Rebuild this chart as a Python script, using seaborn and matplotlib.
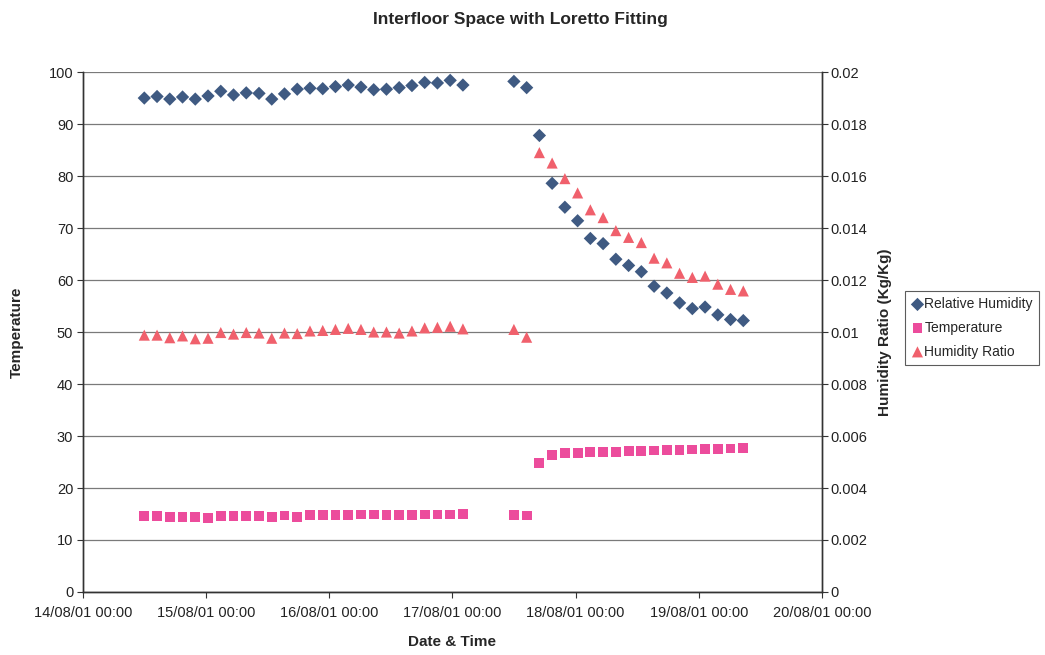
import matplotlib
matplotlib.use("Agg")
import matplotlib.pyplot as plt
import matplotlib.dates as mdates
import numpy as np
import pandas as pd
import seaborn as sns

sns.set_style("white")
plt.rcParams['font.family'] = ['Liberation Sans', 'DejaVu Sans']

nan = np.nan

# readings roughly every 2.5 hours, three readings missing on 17/08
times = pd.date_range('2001-08-14 11:57', periods=48, freq='149min')

rel_humidity = [95.0, 95.3, 94.8, 95.2, 94.8, 95.4, 96.3, 95.6, 96.0, 95.9,
                94.8, 95.8, 96.7, 96.9, 96.8, 97.2, 97.5, 97.1, 96.6, 96.7,
                97.0, 97.4, 98.0, 97.9, 98.4, 97.5,
                nan, nan, nan,
                98.2, 97.0,
                87.8, 78.6, 74.0, 71.4, 68.0, 67.0, 64.0, 62.8, 61.6, 58.8,
                57.5, 55.6, 54.5, 54.8, 53.3, 52.4, 52.2]

temperature = [14.6, 14.6, 14.5, 14.5, 14.4, 14.3, 14.6, 14.6, 14.6, 14.6,
               14.5, 14.7, 14.5, 14.8, 14.8, 14.8, 14.8, 14.9, 14.9, 14.8,
               14.8, 14.8, 14.9, 14.9, 14.9, 15.0,
               nan, nan, nan,
               14.8, 14.7,
               24.8, 26.3, 26.8, 26.8, 26.9, 27.0, 27.0, 27.1, 27.1, 27.2,
               27.3, 27.3, 27.4, 27.5, 27.5, 27.6, 27.7]

humidity_ratio = [0.00988, 0.00988, 0.00978, 0.00985, 0.00974, 0.00976, 0.00998,
                  0.00992, 0.00998, 0.00996, 0.00976, 0.00996, 0.00994, 0.01004,
                  0.01006, 0.0101, 0.01014, 0.0101, 0.0100, 0.0100, 0.00996,
                  0.01004, 0.01016, 0.01018, 0.01022, 0.01012,
                  nan, nan, nan,
                  0.0101, 0.0098,
                  0.0169, 0.0165, 0.0159, 0.01535, 0.0147, 0.0144, 0.0139,
                  0.01364, 0.01344, 0.01284, 0.01266, 0.01226, 0.0121, 0.01215,
                  0.01184, 0.01164, 0.01158]

df = pd.DataFrame({'time': times, 'rh': rel_humidity,
                   'temp': temperature, 'hr': humidity_ratio})

fig = plt.figure(figsize=(10.45, 6.55), dpi=100)
ax = fig.add_axes([0.0794, 0.0962, 0.7072, 0.7938])
ax2 = ax.twinx()

sns.scatterplot(data=df, x='time', y='rh', ax=ax, marker='D', s=46,
                color='#3f5a82', edgecolor='none', label='Relative Humidity',
                legend=False)
sns.scatterplot(data=df, x='time', y='temp', ax=ax, marker='s', s=50,
                color='#ec4c9c', edgecolor='none', label='Temperature',
                legend=False)
sns.scatterplot(data=df, x='time', y='hr', ax=ax2, marker='^', s=64,
                color='#f0606c', edgecolor='none', label='Humidity Ratio',
                legend=False)

ax.set_xlim(pd.Timestamp('2001-08-14'), pd.Timestamp('2001-08-20'))
ax.set_ylim(0, 100)
ax2.set_ylim(0, 0.02)
ax.set_yticks(range(0, 101, 10))
ax2.set_yticks([0, 0.002, 0.004, 0.006, 0.008, 0.01, 0.012, 0.014,
                0.016, 0.018, 0.02])
ax2.set_yticklabels(['0', '0.002', '0.004', '0.006', '0.008', '0.01', '0.012',
                     '0.014', '0.016', '0.018', '0.02'])

ax.xaxis.set_major_locator(mdates.DayLocator())
ax.xaxis.set_major_formatter(mdates.DateFormatter('%d/%m/%y %H:%M'))

ax.yaxis.grid(True, color='#7a7a7a', linewidth=0.9)
ax.set_axisbelow(True)

for a in (ax, ax2):
    a.spines['top'].set_visible(False)
    for s in ('left', 'bottom', 'right'):
        a.spines[s].set_color('#333333')
        a.spines[s].set_linewidth(1.0)
    a.tick_params(direction='out', length=4, width=0.8, color='#333333',
                  labelsize=10.5, colors='#222222')
ax.tick_params(axis='y', left=True, pad=3)
ax.tick_params(axis='x', bottom=True, pad=6)
ax2.tick_params(axis='y', right=True, pad=2)

ax.set_xlabel('Date & Time', fontsize=11, fontweight='bold', labelpad=11)
ax.set_ylabel('Temperature', fontsize=11, fontweight='bold', labelpad=18)
ax2.set_ylabel('Humidity Ratio (Kg/Kg)', fontsize=11, fontweight='bold',
               labelpad=8)

fig.suptitle('Interfloor Space with Loretto Fitting', x=0.498, y=0.982,
             fontsize=12.5, fontweight='bold')

h1, l1 = ax.get_legend_handles_labels()
h2, l2 = ax2.get_legend_handles_labels()
leg = fig.legend(h1 + h2, l1 + l2, loc='upper left',
                 bbox_to_anchor=(0.866, 0.556), fontsize=10, frameon=True,
                 fancybox=False, edgecolor='#333333', handletextpad=0.05,
                 handlelength=0.9, borderpad=0.45, labelspacing=0.7,
                 borderaxespad=0)
leg.get_frame().set_linewidth(0.8)

fig.savefig('out.png', dpi=100)
